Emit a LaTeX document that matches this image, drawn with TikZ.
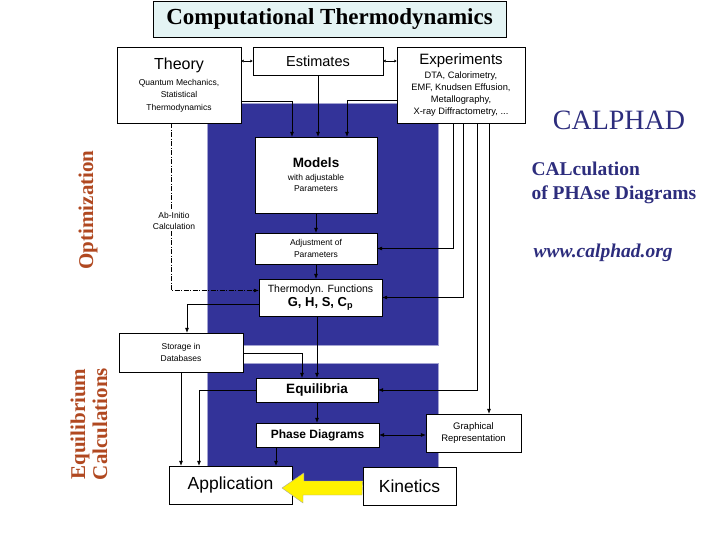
\documentclass[tikz,border=0pt]{standalone}
\usepackage{fontspec}
\setmainfont{Liberation Serif}
\setsansfont{Liberation Sans}
\usetikzlibrary{arrows.meta, positioning}

\definecolor{calblue}{RGB}{51,51,153}
\definecolor{caltext}{RGB}{45,45,125}
\definecolor{calbrown}{RGB}{176,72,32}
\definecolor{titlebg}{RGB}{228,244,244}
\newcommand{\fsz}[2]{\fontsize{#1}{#2}\selectfont}

\begin{document}
\begin{tikzpicture}[
						x=1pt, y=-1pt,
						>={Latex[length=5pt,width=4pt]},
						box/.style = {draw, fill=white, rectangle, inner sep=1pt, align=center, font=\sffamily},
						panel/.style = {fill=calblue, draw=calblue!45!white},
						link/.style = {->, semithick},
						abinit/.style = {semithick, dash pattern=on 5pt off 1.5pt on 1pt off 1.5pt},
						side/.style = {font=\fsz{21}{22}\bfseries, text=calbrown, rotate=90, align=center},
						fatarrow/.style = {fill=yellow, draw=gray!70, thin}
					]
\useasboundingbox (0,0) rectangle (720,540);

% blue panels
\path[panel] (207,103) rectangle (438,345);
\path[panel] (207,363) rectangle (438,484);

\node[box] (title) at (329.5,19) [fill=titlebg, minimum width=353pt, minimum height=36pt, font=\fsz{23}{26}\bfseries] {Computational Thermodynamics};

\node[box] (theory) at (179,85) [minimum width=124pt, minimum height=76pt, font=\sffamily\fsz{8.5}{12.5}]
	{{\fsz{16}{19}Theory}\\[3pt]Quantum Mechanics,\\Statistical\\Thermodynamics};
\node[box] (est) at (318,61) [minimum width=130pt, minimum height=28pt, font=\sffamily\fsz{14.5}{17}] {Estimates};
\node[box] (expt) at (461,85) [minimum width=128pt, minimum height=76pt, font=\sffamily\fsz{9.3}{11.8}]
	{{\fsz{15}{18}Experiments}\\[2pt]DTA, Calorimetry,\\EMF, Knudsen Effusion,\\Metallography,\\X-ray Diffractometry, ...};

\node[box] (models) at (316,175) [minimum width=122pt, minimum height=76pt, font=\sffamily\fsz{8.5}{11.5}]
	{{\fsz{13.5}{16}\bfseries Models}\\[1pt]with adjustable\\Parameters};
\node[box] (adjust) at (316,248.5) [minimum width=122pt, minimum height=31pt, font=\sffamily\fsz{8.5}{11.5}] {Adjustment of\\Parameters};
\node[box] (thermo) at (320.5,297.5) [minimum width=123pt, minimum height=37pt, font=\sffamily\fsz{10.5}{13}]
	{Thermodyn. Functions\\[1pt]{\fsz{13}{15}\bfseries G, H, S, C\textsubscript{p}}};
\node[box] (storage) at (181,352.5) [minimum width=124pt, minimum height=39pt, font=\sffamily\fsz{8.5}{12}] {Storage in\\Databases};
\node[box] (equil) at (317,390) [minimum width=122pt, minimum height=24pt, font=\sffamily\bfseries\fsz{13.5}{16}] {Equilibria};
\node[box] (phase) at (317.5,435) [minimum width=123pt, minimum height=24pt, font=\sffamily\bfseries\fsz{12}{14}] {Phase Diagrams};
\node[box] (graph) at (473.5,433) [minimum width=95pt, minimum height=38pt, font=\sffamily\fsz{9.5}{12}] {Graphical\\Representation};
\node[box] (app) at (230.5,485) [minimum width=123pt, minimum height=38pt, font=\sffamily\fsz{17.5}{20}] {Application};
\node[box] (kin) at (409.5,486) [minimum width=93pt, minimum height=38pt, font=\sffamily\fsz{17.5}{20}] {Kinetics};

% side labels
\node[side] (opt) at (88,210) {Optimization};
\node[side] (eqcalc) at (89,424) {Equilibrium\\Calculations};
\node (calphad) at (619,120) [font=\fsz{28}{30}, text=caltext] {CALPHAD};
\node (calc) at (528,183) [anchor=west, align=left, font=\fsz{19.5}{24}\bfseries, text=caltext] {CALculation\\of PHAse Diagrams};
\node (www) at (530,253) [anchor=west, font=\fsz{19.5}{20}\bfseries\itshape, text=caltext] {www.calphad.org};

% links between the top boxes
\draw[<->, >={Latex[length=2.5pt,width=3pt]}] (theory.north east |- est.west) -- (est.west);
\draw[<->, >={Latex[length=2.5pt,width=3pt]}] (est.east) -- (est.east -| expt.north west);

% into the models
\draw[link] ([yshift=-16pt]theory.east) -| ([xshift=-24pt]models.north);
\draw[link] (est.south) -- (est.south |- models.north);
\draw[link] ([yshift=-15pt]expt.west) -| ([xshift=31pt]models.north);

% experiments down the right side
\draw[link] ([xshift=-8pt]expt.south) |- (adjust.east);
\draw[link] ([xshift=2pt]expt.south) |- (thermo.east);
\draw[link] ([xshift=16pt]expt.south) |- (equil.east);
\draw[link] ([xshift=28pt]expt.south) -- ([xshift=28pt]expt.south |- graph.north);

% ab-initio
\draw[abinit, ->] ([xshift=-8pt]theory.south) |- ([yshift=7pt]thermo.west);
\node (abtext) at (174,221) [fill=white, inner sep=1pt, align=center, font=\sffamily\fsz{8.5}{11.5}] {Ab-Initio\\Calculation};

% main chain
\draw[link] (models.south) -- (adjust.north);
\draw[link] (adjust.south) -- (adjust.south |- thermo.north);
\draw[link] ([yshift=-6.5pt]thermo.west) -| ([xshift=6pt]storage.north);
\draw[link] (equil.north |- thermo.south) -- (equil.north);
\draw[link] ([yshift=-0.5pt]storage.east) -| ([xshift=-15pt]equil.north);
\draw[link] (storage.south) -- (storage.south |- app.north);
\draw[link] (equil.west) -| ([xshift=-31.5pt]app.north);
\draw[link] (equil.south) -- (equil.south |- phase.north);
\draw[link] ([xshift=-41.5pt]phase.south) -- ([xshift=-41.5pt]phase.south |- app.north);
\draw[<->, semithick] (phase.east) -- (phase.east -| graph.west);

% kinetics into application
\coordinate (tip) at (282,488);
\draw[fatarrow] (kin.west |- tip) ++(0,-7) -- ++(-59,0) -- ++(0,-8) -- (tip) -- ++(21,15) -- ++(0,-8) -- ++(59,0) -- cycle;
\end{tikzpicture}
\end{document}
